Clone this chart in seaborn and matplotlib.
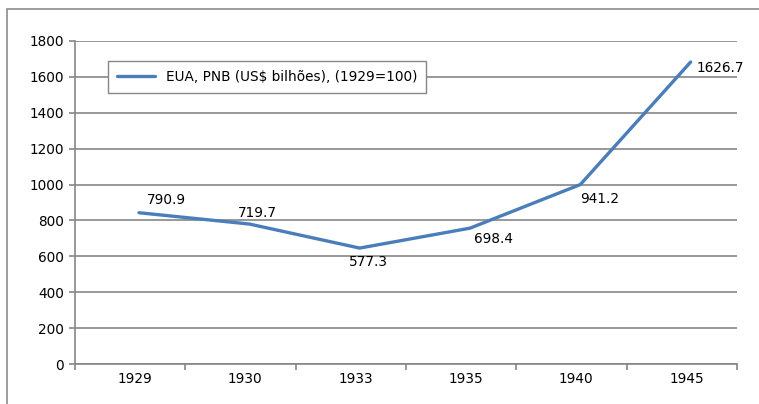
import numpy as np
import pandas as pd
import matplotlib
matplotlib.use("Agg")
import matplotlib.pyplot as plt
from matplotlib.patches import Rectangle
from matplotlib.transforms import ScaledTranslation
import seaborn as sns

# data
years = ["1929", "1930", "1933", "1935", "1940", "1945"]
values = [843, 780, 646, 757, 1000, 1683]
labels = ["790.9", "719.7", "577.3", "698.4", "941.2", "1626.7"]
series_name = "EUA, PNB (US$ bilhões), (1929=100)"

sns.set_style("white")
plt.rcParams["font.family"] = ["DejaVu Sans"]
plt.rcParams["font.size"] = 9.8
plt.rcParams["text.color"] = "black"
plt.rcParams["xtick.labelcolor"] = "black"
plt.rcParams["ytick.labelcolor"] = "black"

df = pd.DataFrame({"ano": years, "valor": values})

fig = plt.figure(figsize=(7.59, 4.04), dpi=100)
ax = fig.add_axes([75/759, 1-364/404, (737-75)/759, (364-41)/404])

# outer chart frame
fig.add_artist(Rectangle((7/759, -0.1), 1.2, (1-9/404) + 0.1,
                         transform=fig.transFigure, fill=False,
                         edgecolor="#8c8c8c", linewidth=1.2))

sns.lineplot(data=df, x="ano", y="valor", ax=ax, color="#4a7ebb",
             linewidth=2.4, label=series_name, sort=False)

# points sit a bit right of the category centres in the original
shift = 0.08
ax.set_xlim(-0.5 - shift, 5.5 - shift)
ax.set_ylim(0, 1800)
ax.set_yticks(np.arange(0, 1801, 200))
ax.set_xlabel("")
ax.set_ylabel("")
ax.yaxis.grid(True, color="#868686", linewidth=1.2)
ax.set_axisbelow(True)

for s in ["top", "right"]:
    ax.spines[s].set_visible(False)
for s in ["left", "bottom"]:
    ax.spines[s].set_color("#868686")
    ax.spines[s].set_linewidth(1.2)

ax.tick_params(axis="y", length=4, color="#868686", width=1.2, left=True, pad=4)
ax.tick_params(axis="x", which="major", length=0, pad=6)
ax.set_xticks(np.arange(-0.5, 5.6, 1) - shift, minor=True)
ax.tick_params(axis="x", which="minor", length=4, color="#868686", width=1.2, bottom=True)
for t in ax.get_xticklabels():
    t.set_transform(t.get_transform() + ScaledTranslation(-4/100, 0, fig.dpi_scale_trans))

# data labels (offsets in points)
offsets = [(6, 4, "left", "bottom"), (-8, 3, "left", "bottom"),
           (-8, -5, "left", "top"), (3, -3, "left", "top"),
           (0, -5, "left", "top"), (4, -4, "left", "center")]
for i, (lab, (dx, dy, ha, va)) in enumerate(zip(labels, offsets)):
    ax.annotate(lab, (i, values[i]), xytext=(dx, dy), textcoords="offset points",
                ha=ha, va=va, fontsize=9.8, color="black")

leg = ax.legend(loc="upper left", bbox_to_anchor=((108-75)/662, (364-61)/323),
                borderaxespad=0, fancybox=False, frameon=True, handlelength=2.8,
                borderpad=0.65, framealpha=1, fontsize=9.8)
leg.get_frame().set_edgecolor("#868686")
leg.get_frame().set_linewidth(1.0)

fig.savefig("out.png", dpi=100)
